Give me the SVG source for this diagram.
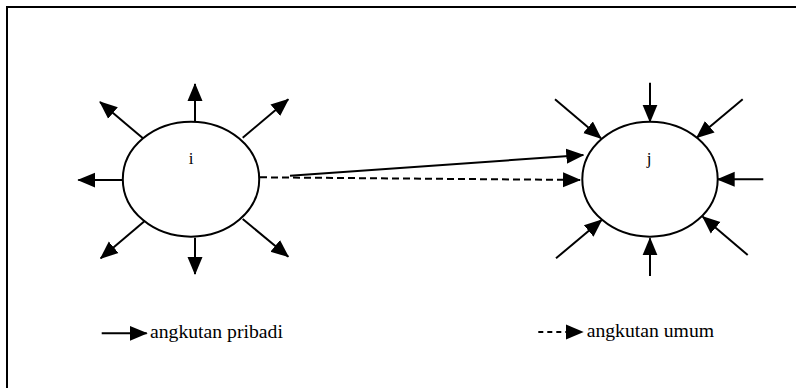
<svg xmlns="http://www.w3.org/2000/svg" width="796" height="388" viewBox="0 0 796 388">
<style>
.frame{fill:none;stroke:#000;stroke-width:2}
.node{fill:#fff;stroke:#000;stroke-width:2}
.c{stroke:#000;stroke-width:2;fill:none;marker-end:url(#ah)}
.d{stroke-dasharray:7 4}
.dl{stroke-dasharray:5 4}
text{font-family:Liberation Serif, Tinos, Times New Roman, DejaVu Serif, serif;fill:#000}
</style>
<defs>
<marker id="ah" markerUnits="userSpaceOnUse" markerWidth="18" markerHeight="18" viewBox="0 0 18 18" refX="17" refY="9" orient="auto">
<path d="M0,1.5 L18,9 L0,16.5 z" fill="#000"/>
</marker>
</defs>
<rect width="796" height="388" fill="#fff"/>
<path class="frame" d="M7,400 L7,7 L800,7"/>
<g id="connectors">
<line class="c" x1="195" y1="121.7" x2="195" y2="84"/>
<line class="c" x1="145" y1="140" x2="100" y2="102"/>
<line class="c" x1="242.7" y1="137.7" x2="288.3" y2="99.3"/>
<line class="c" x1="122.7" y1="180" x2="78.3" y2="180"/>
<line class="c" x1="145" y1="220.7" x2="100.7" y2="258.3"/>
<line class="c" x1="195" y1="237.7" x2="195" y2="274"/>
<line class="c" x1="242.7" y1="219" x2="288.3" y2="256.7"/>
<line class="c" x1="650" y1="82.7" x2="650" y2="121.7"/>
<line class="c" x1="555" y1="99.3" x2="601" y2="138.3"/>
<line class="c" x1="742.7" y1="99.3" x2="696.7" y2="137.7"/>
<line class="c" x1="763.3" y1="179.3" x2="717.7" y2="179.3"/>
<line class="c" x1="556" y1="258.3" x2="601.7" y2="220"/>
<line class="c" x1="650" y1="276" x2="650" y2="238.3"/>
<line class="c" x1="747.7" y1="255" x2="702.7" y2="216.7"/>
<line class="c" x1="290" y1="175.7" x2="583.3" y2="155"/>
<line class="c d" x1="260" y1="177.3" x2="580" y2="180"/>
<line class="c" x1="101.7" y1="333.3" x2="146.7" y2="333.3"/>
<line class="c dl" x1="538.3" y1="332" x2="582.7" y2="332"/>
</g>
<g id="node-i">
<ellipse class="node" cx="191" cy="179.2" rx="68.2" ry="57.5"/>
<text x="191" y="164" font-size="17" text-anchor="middle">i</text>
</g>
<g id="node-j">
<ellipse class="node" cx="650" cy="179.2" rx="67.7" ry="57.5"/>
<text x="649" y="164" font-size="17" text-anchor="middle">j</text>
</g>
<g id="legend">
<text x="150" y="338" font-size="19.7">angkutan pribadi</text>
<text x="586.7" y="337" font-size="19.7">angkutan umum</text>
</g>
</svg>
